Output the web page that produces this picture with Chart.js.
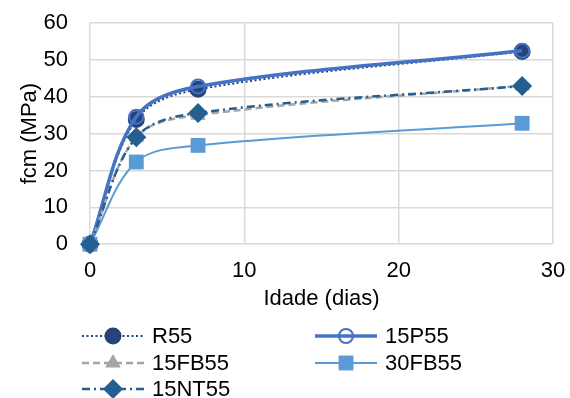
<!DOCTYPE html>
<html>
<head>
<meta charset="utf-8">
<script src="https://cdn.jsdelivr.net/npm/chart.js@4/dist/chart.umd.min.js"></script>
<style>
  html, body { margin: 0; padding: 0; background: #fff; }
  #wrap { width: 570px; height: 398px; }
</style>
</head>
<body>
<div id="wrap"><canvas id="chart" width="570" height="398"></canvas></div>
<script>
// idade (dias) e resistência à compressão por mistura
const idade = [0, 3, 7, 28];
const r55 = [0, 33.8, 42.0, 52.3];
const p15 = [0, 34.6, 42.8, 52.5];
const fb15 = [0, 29.0, 35.0, 43.0];
const fb30 = [0, 22.3, 26.8, 32.8];
const nt15 = [0, 29.0, 35.6, 42.9];
const xTicks = [0, 10, 20, 30];
const yTicks = [0, 10, 20, 30, 40, 50, 60];

const FONT = "'Liberation Sans', Arial, sans-serif";
const FSIZE = 22;

function pts(ys) {
    return idade.map((x, i) => ({x, y: ys[i]}));
}

const series = [
    {label: 'R55', data: r55, color: '#264478', width: 2, dash: [2, 2.5], style: 'circle', radius: 7.5, fill: '#264478'},
    {label: '15P55', data: p15, color: '#4472C4', width: 3.5, dash: [], style: 'circle', radius: 7, fill: '#ffffff00'},
    {label: '15FB55', data: fb15, color: '#A5A5A5', width: 2.5, dash: [7, 4], style: 'triangle', radius: 9, fill: '#A5A5A5'},
    {label: '30FB55', data: fb30, color: '#5B9BD5', width: 2, dash: [], style: 'rect', radius: 10.5, fill: '#5B9BD5'},
    {label: '15NT55', data: nt15, color: '#255E91', width: 2.5, dash: [8, 4, 2, 4], style: 'rectRot', radius: 10, fill: '#255E91'}
];

const datasets = series.map((s, i) => ({
    label: s.label,
    data: pts(s.data),
    borderColor: s.color,
    borderWidth: s.width,
    borderDash: s.dash,
    tension: 0.35,
    fill: false,
    clip: false,
    pointStyle: s.style,
    pointRadius: s.radius,
    pointHoverRadius: s.radius,
    pointBackgroundColor: s.fill,
    pointBorderColor: s.color,
    pointBorderWidth: s.style === 'circle' ? 2 : 0,
    order: series.length - i
}));

function drawMarker(ctx, s, x, y) {
    ctx.save();
    ctx.setLineDash([]);
    ctx.fillStyle = s.fill;
    ctx.strokeStyle = s.color;
    const bw = s.style === 'circle' ? 2 : 0;
    ctx.lineWidth = bw;
    Chart.helpers.drawPoint(ctx, {
        pointStyle: s.style,
        radius: s.radius,
        rotation: 0,
        borderWidth: bw
    }, x, y);
    ctx.restore();
}

// legenda em duas colunas, linha com marcador ao centro
const legendPlugin = {
    id: 'legendaSeries',
    afterDraw(chart) {
        const ctx = chart.ctx;
        const cols = [82, 315];
        const rows = [336, 363, 389];
        ctx.save();
        series.forEach((s, i) => {
            const x0 = cols[i % 2];
            const y = rows[Math.floor(i / 2)];
            ctx.beginPath();
            ctx.setLineDash(s.dash);
            ctx.strokeStyle = s.color;
            ctx.lineWidth = s.width;
            ctx.moveTo(x0, y);
            ctx.lineTo(x0 + 62, y);
            ctx.stroke();
            drawMarker(ctx, s, x0 + 31, y);
            ctx.fillStyle = '#000';
            ctx.font = FSIZE + 'px ' + FONT;
            ctx.textBaseline = 'middle';
            ctx.textAlign = 'left';
            ctx.fillText(s.label, x0 + 70, y + 1);
        });
        ctx.restore();
    }
};

new Chart(document.getElementById('chart'), {
    type: 'line',
    data: {datasets},
    plugins: [legendPlugin],
    options: {
        responsive: false,
        animation: false,
        layout: {padding: {top: 23, right: 17, left: 0, bottom: 86}},
        plugins: {
            legend: {display: false},
            tooltip: {enabled: false}
        },
        scales: {
            x: {
                type: 'linear',
                min: 0,
                max: 30,
                afterBuildTicks: axis => { axis.ticks = xTicks.map(v => ({value: v})); },
                afterFit: axis => { axis.paddingLeft = 0; axis.paddingRight = 0; },
                grid: {color: '#D9D9D9', lineWidth: 1.5, drawTicks: false},
                border: {display: false},
                ticks: {color: '#000', font: {family: FONT, size: FSIZE}, padding: 14, maxRotation: 0},
                title: {display: true, text: 'Idade (dias)', color: '#000', font: {family: FONT, size: FSIZE}, padding: {top: -13, bottom: 0}}
            },
            y: {
                min: 0,
                max: 60,
                afterBuildTicks: axis => { axis.ticks = yTicks.map(v => ({value: v})); },
                afterFit: axis => { axis.width = 90; axis.paddingTop = 0; axis.paddingBottom = 0; },
                grid: {color: '#D9D9D9', lineWidth: 1.5, drawTicks: false},
                border: {display: false},
                ticks: {color: '#000', font: {family: FONT, size: FSIZE}, padding: 22},
                title: {display: true, text: 'fcm (MPa)', color: '#000', font: {family: FONT, size: FSIZE}, padding: {top: 17, bottom: 0}}
            }
        }
    }
});
</script>
</body>
</html>
